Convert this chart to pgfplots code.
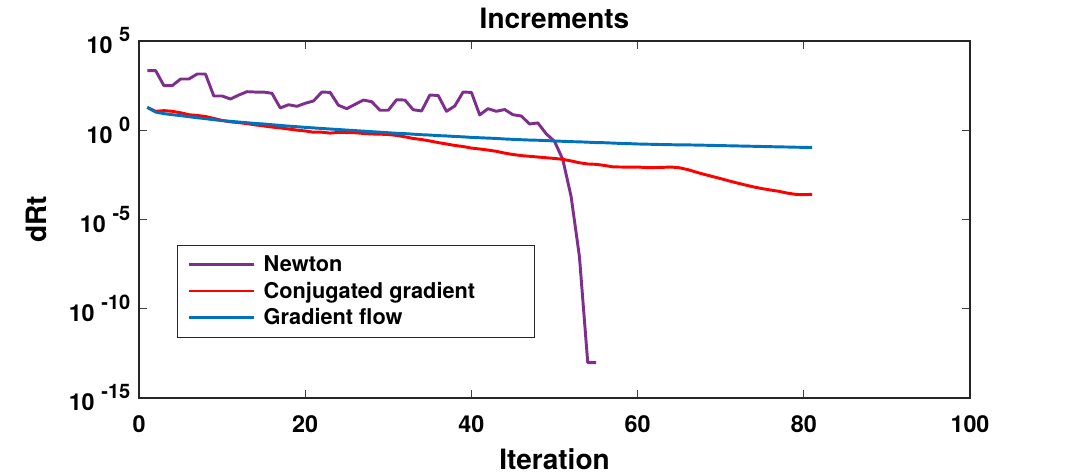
\documentclass[border=0pt]{standalone}
\usepackage{fontspec}
\setmainfont{TeX Gyre Heros}
\usepackage{pgfplots}
\pgfplotsset{compat=1.18}

\definecolor{newton}{RGB}{126,47,142}
\definecolor{cgrad}{RGB}{255,0,0}
\definecolor{gflow}{RGB}{0,114,189}

% MATLAB-style power-of-ten tick label: "10" with a raised exponent
\newcommand\tenp[1]{\fontsize{17.5}{20}\selectfont\bfseries 10\hspace{5pt}\raisebox{9pt}{\fontsize{15}{17}\selectfont\bfseries #1}}

\begin{document}
\begin{tikzpicture}
\begin{axis}[
  scale only axis,
  width=623.25pt, height=267.75pt,
  ymode=log,
  xmin=0, xmax=100,
  ymin=1e-15, ymax=1e5,
  xtick={0,20,40,60,80,100},
  ytick={1e-15,1e-10,1e-5,1,1e5},
  yticklabels={\tenp{-15},\tenp{-10},\tenp{-5},\tenp{0},\tenp{5}},
  yminorticks=false,
  tick align=inside,
  major tick length=6pt,
  axis line style={black!85, line width=0.8pt},
  every tick/.style={black!75, line width=0.8pt},
  /pgf/number format/assume math mode=true,
  xticklabel style={font=\fontsize{17.5}{20}\selectfont\bfseries, yshift=-9.75pt},
  yticklabel style={xshift=-3pt},
  title={Increments},
  title style={font=\fontsize{21}{24}\selectfont\bfseries},
  xlabel={Iteration},
  ylabel={dRt},
  label style={font=\fontsize{21}{24}\selectfont\bfseries},
  xlabel style={yshift=-5pt},
  ylabel style={yshift=10pt},
  legend cell align=left,
  legend style={
    at={(rel axis cs:0.0454,0.4286)}, anchor=north west,
    draw=black!85, line width=0.6pt, fill=white,
    font=\fontsize{16.3}{19}\selectfont\bfseries,
    inner xsep=8pt, inner ysep=5.5pt,
    row sep=2.5pt, column sep=4pt,
  },
  legend image code/.code={\draw[#1] (0pt,0pt) -- (48.75pt,0pt);},
  every axis plot/.append style={line width=2.2pt, line join=round},
]

\addplot[newton] coordinates {
(1,2190)(2,2190)(3,316)(4,316)(5,741)(6,741)(7,1410)(8,1410)(9,83.2)(10,83.2)
(11,56.2)(12,93.3)(13,144.5)(14,138)(15,138)(16,117.5)(17,17.8)(18,26.9)(19,21.9)(20,32.4)
(21,43.7)(22,138)(23,132)(24,25.1)(25,16.2)(26,28.2)(27,49.0)(28,39.8)(29,13.2)(30,13.2)
(31,51.3)(32,49.0)(33,14.1)(34,12.0)(35,93.3)(36,89.1)(37,11.5)(38,22.9)(39,138)(40,132)
(41,7.24)(42,16.2)(43,11.5)(44,14.5)(45,7.41)(46,6.31)(47,2.24)(48,2.57)(49,0.631)(50,0.240)
(51,0.0229)(52,1.91e-4)(53,8.32e-8)(54,9.55e-14)(55,9.55e-14)
};
\addlegendentry{\makebox[193pt][l]{Newton}}

\addplot[cgrad] coordinates {
(1,19.1)(2,11.5)(3,12.6)(4,11.5)(5,9.55)(6,7.41)(7,6.76)(8,5.89)(9,4.57)(10,3.55)
(11,2.95)(12,2.69)(13,2.34)(14,2.00)(15,1.74)(16,1.51)(17,1.35)(18,1.17)(19,1.02)(20,0.912)
(21,0.776)(22,0.776)(23,0.692)(24,0.759)(25,0.741)(26,0.724)(27,0.661)(28,0.617)(29,0.603)(30,0.575)
(31,0.513)(32,0.427)(33,0.347)(34,0.302)(35,0.251)(36,0.204)(37,0.170)(38,0.141)(39,0.123)(40,0.100)
(41,0.0891)(42,0.0776)(43,0.0661)(44,0.0525)(45,0.0437)(46,0.0380)(47,0.0347)(48,0.0316)(49,0.0288)(50,0.0263)
(51,0.0234)(52,0.0191)(53,0.0151)(54,0.0129)(55,0.0123)(56,0.0107)(57,0.00891)(58,0.00871)(59,0.00851)(60,0.00871)
(61,0.00813)(62,0.00813)(63,0.00832)(64,0.00871)(65,0.00794)(66,0.00631)(67,0.00457)(68,0.00339)(69,0.00257)(70,0.00195)
(71,0.00145)(72,0.00110)(73,8.51e-4)(74,6.61e-4)(75,5.37e-4)(76,4.47e-4)(77,3.80e-4)(78,3.02e-4)(79,2.57e-4)(80,2.45e-4)
(81,2.57e-4)
};
\addlegendentry{\makebox[193pt][l]{Conjugated gradient}}

\addplot[gflow] coordinates {
(1,19.05)(2,10.47)(3,8.51)(4,7.41)(5,6.61)(6,5.75)(7,5.01)(8,4.47)(9,3.89)(10,3.47)
(11,3.16)(12,2.88)(13,2.63)(14,2.40)(15,2.24)(16,2.04)(17,1.86)(18,1.70)(19,1.58)(20,1.45)
(21,1.35)(22,1.26)(23,1.17)(24,1.10)(25,1.02)(26,0.955)(27,0.891)(28,0.832)(29,0.776)(30,0.724)
(31,0.676)(32,0.646)(33,0.603)(34,0.562)(35,0.537)(36,0.501)(37,0.479)(38,0.447)(39,0.427)(40,0.398)
(41,0.380)(42,0.363)(43,0.347)(44,0.324)(45,0.309)(46,0.295)(47,0.282)(48,0.275)(49,0.263)(50,0.251)
(51,0.240)(52,0.229)(53,0.224)(54,0.214)(55,0.204)(56,0.200)(57,0.191)(58,0.182)(59,0.178)(60,0.170)
(61,0.166)(62,0.162)(63,0.158)(64,0.155)(65,0.151)(66,0.151)(67,0.148)(68,0.145)(69,0.141)(70,0.138)
(71,0.135)(72,0.132)(73,0.129)(74,0.126)(75,0.123)(76,0.120)(77,0.117)(78,0.115)(79,0.112)(80,0.110)
(81,0.107)
};
\addlegendentry{\makebox[193pt][l]{Gradient flow}}

\coordinate (ll) at (rel axis cs:0,0);
\coordinate (ur) at (rel axis cs:1,1);
\end{axis}
\pgfresetboundingbox
\path ([shift={(-104.25pt,-57.75pt)}]ll) rectangle ([shift={(77.25pt,30.75pt)}]ur);
\end{tikzpicture}
\end{document}
